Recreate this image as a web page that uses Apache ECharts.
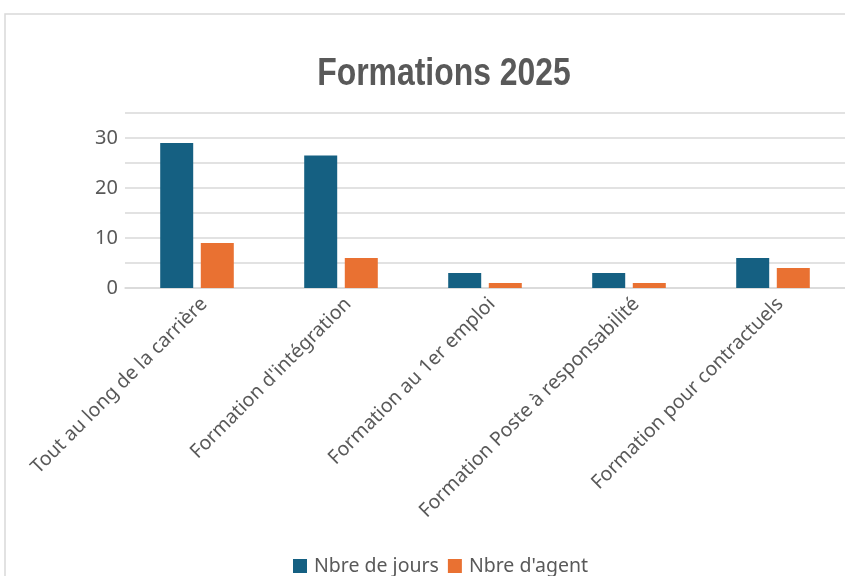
<!DOCTYPE html>
<html>
<head>
<meta charset="utf-8">
<script src="https://cdn.jsdelivr.net/npm/echarts@6/dist/echarts.min.js"></script>
<style>html,body{margin:0;padding:0;background:#fff;overflow:hidden;}#c{width:845px;height:576px;}</style>
</head>
<body>
<div id="c"></div>
<script>
const categories = ["Tout au long de la carrière", "Formation d'intégration", "Formation au 1er emploi", "Formation Poste à responsabilité", "Formation pour contractuels"];
const seriesNames = ["Nbre de jours", "Nbre d'agent"];
const joursValues = [29, 26.5, 3, 3, 6];
const agentValues = [9, 6, 1, 1, 4];
const chart = echarts.init(document.getElementById('c'));
const txt = '#595959';
chart.setOption({
  animation: false,
  graphic: [
    { type: 'rect', shape: { x: 5, y: 14, width: 1000, height: 800 }, style: { fill: 'none', stroke: '#d9d9d9', lineWidth: 1.5 }, silent: true },
    { type: 'text', x: 444, y: 56, scaleX: 0.84, style: { text: 'Formations 2025', font: 'bold 38px "Liberation Sans", sans-serif', fill: txt, align: 'center', verticalAlign: 'top' }, silent: true }
  ],
  legend: {
    data: seriesNames, top: 551, left: 288, icon: 'rect', itemWidth: 14, itemHeight: 14, itemGap: 9,
    textStyle: { fontFamily: 'Noto Sans', fontSize: 19.5, color: txt, padding: [0, 0, 0, 2] }
  },
  grid: { left: 125, width: 720, top: 113, height: 175, outerBoundsMode: 'none' },
  xAxis: {
    type: 'category', data: categories,
    axisLine: { show: true, lineStyle: { color: '#d9d9d9', width: 1.5 } },
    axisTick: { show: false },
    axisLabel: { rotate: 45, interval: 0, margin: 6, verticalAlign: 'top', fontFamily: 'Noto Sans', fontSize: 19.5, color: txt }
  },
  yAxis: {
    type: 'value', min: 0, max: 35, interval: 5,
    axisLine: { show: false }, axisTick: { show: false },
    splitLine: { lineStyle: { color: '#d9d9d9', width: 1.5 } },
    axisLabel: { margin: 7, fontFamily: 'Noto Sans', fontSize: 20, color: txt, formatter: v => (v % 10 === 0 && v <= 30) ? String(v) : '' }
  },
  series: [
    { name: seriesNames[0], type: 'bar', data: joursValues, barWidth: 33, barGap: '23%', itemStyle: { color: '#156082' } },
    { name: seriesNames[1], type: 'bar', data: agentValues, barWidth: 33, barGap: '23%', itemStyle: { color: '#E97132' } }
  ]
});
</script>
</body>
</html>
